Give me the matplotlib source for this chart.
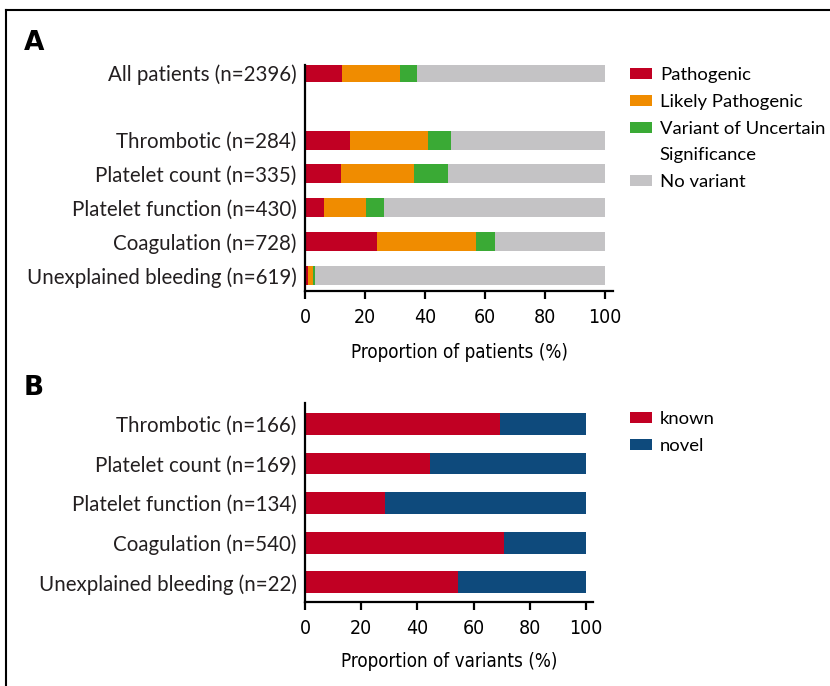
import numpy as np
import matplotlib
matplotlib.use('Agg')
import matplotlib.pyplot as plt
from matplotlib.lines import Line2D
from matplotlib.patches import Patch

plt.rcParams['font.family'] = ['Lato', 'DejaVu Sans']

# panel A: proportion of patients (%)
groups_a = ['All patients (n=2396)', 'Thrombotic (n=284)', 'Platelet count (n=335)',
            'Platelet function (n=430)', 'Coagulation (n=728)',
            'Unexplained bleeding (n=619)']
rows_a = [0, 2, 3, 4, 5, 6]
pathogenic = [12.3, 15.0, 12.0, 6.3, 23.9, 1.0]
likely_path = [19.3, 25.9, 24.2, 14.0, 33.2, 1.6]
vus = [5.6, 7.9, 11.6, 5.9, 6.4, 0.7]
series_a = ['Pathogenic', 'Likely Pathogenic', 'Variant of Uncertain', 'No variant']

# panel B: proportion of variants (%)
groups_b = ['Thrombotic (n=166)', 'Platelet count (n=169)', 'Platelet function (n=134)',
            'Coagulation (n=540)', 'Unexplained bleeding (n=22)']
known = [69.3, 44.4, 28.4, 70.7, 54.5]
series_b = ['known', 'novel']

col_a = ['#c10023', '#f08c00', '#3aaa35', '#c4c3c5']
col_b = ['#c10023', '#0e4a7c']
cond = dict(family='DejaVu Sans', stretch='condensed')

W, H = 830, 686
fig = plt.figure(figsize=(W / 100, H / 100), dpi=100)

def style_axes(ax, xmax):
    ax.set_xlim(0, xmax)
    ax.set_xticks([0, 20, 40, 60, 80, 100])
    for s in ['top', 'right']:
        ax.spines[s].set_visible(False)
    for s in ['left', 'bottom']:
        ax.spines[s].set_linewidth(1.6)
    ax.tick_params(axis='y', length=0, pad=6, labelsize=14.8, labelcolor='#231f20')
    ax.tick_params(axis='x', length=6, width=1.6, pad=6, labelsize=14)
    for t in ax.get_xticklabels():
        t.set_family('DejaVu Sans')
        t.set_stretch('condensed')

leg_kw = dict(loc='upper left', frameon=False, fontsize=13.3, handlelength=1.18,
              handleheight=0.55, handletextpad=0.44, labelspacing=0.58,
              borderpad=0, borderaxespad=0)

# ---- A ----
ax1 = fig.add_axes([305 / W, 1 - 291 / H, 308 / W, 226 / H])
p = np.array(pathogenic)
lp = np.array(likely_path)
v = np.array(vus)
none = 100 - p - lp - v
left = np.zeros(len(rows_a))
handles = []
for vals, c, lab in zip([p, lp, v, none], col_a, series_a):
    handles.append(ax1.barh(rows_a, vals, left=left, height=0.56, color=c, label=lab))
    left = left + vals
ax1.set_ylim(6.46, -0.22)
ax1.set_yticks(rows_a)
ax1.set_yticklabels(groups_a)
style_axes(ax1, 102.7)
ax1.set_xlabel('Proportion of patients (%)', fontsize=13.5, labelpad=12, **cond)
# second line of the VUS label gets an empty handle
blank = Patch(facecolor='none', edgecolor='none')
ax1.legend(handles[:3] + [blank, handles[3]],
           series_a[:3] + ['Significance', series_a[3]],
           bbox_to_anchor=(1.055, 0.99), **leg_kw)

# ---- B ----
ax2 = fig.add_axes([305 / W, 1 - 602 / H, 288 / W, 199 / H])
kn = np.array(known)
rows_b = np.arange(len(groups_b))
ax2.barh(rows_b, kn, height=0.55, color=col_b[0], label=series_b[0])
ax2.barh(rows_b, 100 - kn, left=kn, height=0.55, color=col_b[1], label=series_b[1])
ax2.set_ylim(4.5, -0.53)
ax2.set_yticks(rows_b)
ax2.set_yticklabels(groups_b)
style_axes(ax2, 102.5)
ax2.set_xlabel('Proportion of variants (%)', fontsize=13.5, labelpad=10, **cond)
ax2.legend(bbox_to_anchor=(1.128, 0.96), **leg_kw)

# panel letters
fig.text(24 / W, 1 - 50 / H, 'A', fontsize=19, fontweight='bold', family='DejaVu Sans')
fig.text(24 / W, 1 - 395 / H, 'B', fontsize=19, fontweight='bold', family='DejaVu Sans')

# outer frame (left and top edges)
fig.add_artist(Line2D([6 / W, 6 / W], [0, 1 - 10 / H], color='black', lw=1.5,
                      transform=fig.transFigure))
fig.add_artist(Line2D([6 / W, 1], [1 - 10 / H, 1 - 10 / H], color='black', lw=1.5,
                      transform=fig.transFigure))

fig.savefig('out.png', dpi=100)
